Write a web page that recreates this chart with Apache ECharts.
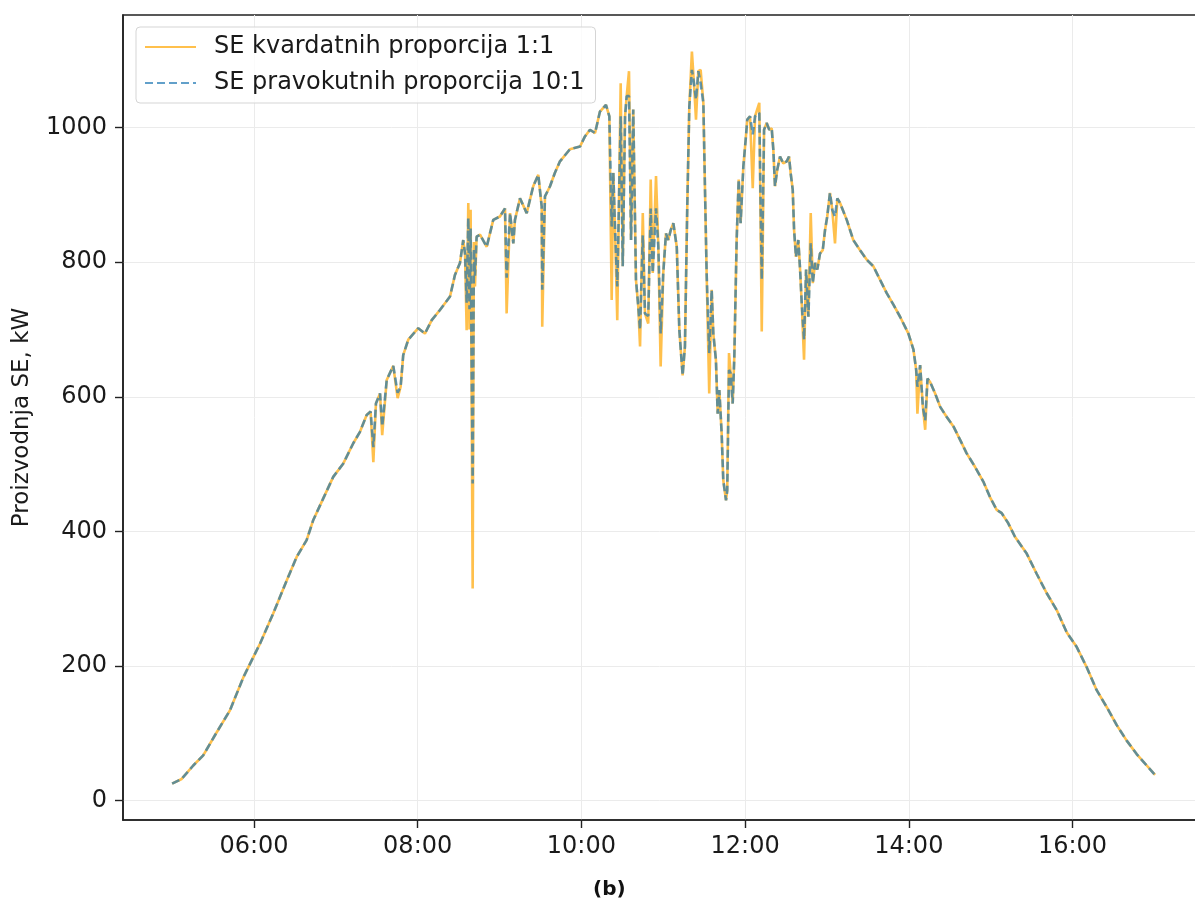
<!DOCTYPE html>
<html><head><meta charset="utf-8">
<script src="https://cdn.jsdelivr.net/npm/echarts@6/dist/echarts.min.js"></script>
<style>html,body{margin:0;padding:0;background:#fff}#c{width:1195px;height:904px}</style>
</head><body><div id="c"></div>
<script>
// time in minutes since midnight
const times = [
300,307,315.5,322.8,331.4,342.4,352.2,360.7,364.4,374.1,384,391.3,398.6,403.5,410.8,418.1,425.5,432.8,437.7,442.6,
445.5,447.5,449.4,452.4,454,457.3,462.1,465.3,467.5,469.4,473.1,480.4,485.3,490.3,496.3,503.7,507.3,511,513.4,514.7,
515.9,517.1,518,518.8,519.6,520.3,521.2,522,523.2,525.7,530.6,535.4,540.3,544,545.2,547.7,550.1,551.3,555,559.9,
564.7,568.4,570.9,571.3,573.3,577,580.6,584.3,591.6,599,602.6,606.3,610,613.6,618,620.5,622.2,623.4,624.6,626.3,
628.8,630.3,632,633.2,634.9,636.4,638,640,641.7,643,645,646.6,649,650.8,652.3,654.7,656.4,658.1,660,662,
663.7,665.5,667.4,669.9,671.8,674.2,675.9,677.6,679.1,681,682.5,684,685.7,687.4,689.4,690.6,691.8,693.7,695.5,696.7,
698.6,699.9,701.1,702.8,704,706,706.9,708.2,709.4,710.9,712.1,713.8,715.3,716.7,718.7,720.4,721.6,723.6,725.6,727.3,
730.4,732.2,733.9,735.8,737.7,739.5,740.7,741.9,743.6,745.6,748,750.5,752.2,753.4,754.9,755.9,757.3,759,760.3,761.5,
763.2,764.7,766.4,768.1,769.6,771.3,772.9,774.9,776.9,778.6,780.2,782.2,783.9,785.9,787.6,789.6,794.5,799.3,804.2,809.1,
814,818.9,823.8,828.7,833.6,839.7,843.4,845.4,846.3,848.3,850.3,852,853.7,855.6,859.3,863,867.8,872.7,877.6,882.4,
888.5,894.6,899.5,904.4,908.1,912.9,917.8,926.4,933.7,941.1,948.4,955.7,963.1,970.4,977.7,985,992.4,999.7,1007,1014.4,
1020.5
];
// SE kvardatnih proporcija 1:1 (kW)
const seriesSquare = [
25,32,52,67,97,134,183,218,233,278,327,362,387,417,449,481,501,531,548,573,
578,503,590,605,543,625,646,598,615,662,685,702,694,714,729,749,781,799,833,813,
699,888,700,878,585,315,830,764,838,841,823,863,868,880,724,873,828,863,895,873,
913,930,883,704,898,913,933,950,968,972,987,997,992,1024,1034,1017,744,933,853,714,
1066,794,1017,1047,1084,833,1027,774,734,675,873,724,709,923,784,928,823,645,784,843,
833,848,858,823,699,632,675,883,1031,1113,1066,1012,1084,1086,1037,908,784,605,759,694,
655,575,610,546,476,446,461,665,635,590,660,833,923,858,942,982,1012,1017,910,1017,
1037,697,997,1007,997,999,967,913,938,957,947,950,957,932,908,848,808,833,789,739,
655,789,719,873,769,799,789,813,818,848,868,903,878,828,895,888,863,833,818,804,
794,774,754,737,719,694,670,640,575,647,585,551,627,622,605,585,570,556,536,516,
496,474,451,432,427,412,392,367,337,308,283,250,228,198,164,139,112,89,69,52,
38
];
// SE pravokutnih proporcija 10:1 (kW)
const seriesRect = [
25,32,52,67,97,134,183,218,233,278,327,362,387,417,449,481,501,531,548,573,
578,525,590,605,556,625,646,606,615,662,685,702,694,714,729,749,781,799,833,813,
740,866,730,850,640,471,820,780,838,841,823,863,868,880,777,873,828,863,895,873,
913,930,883,759,898,913,933,950,968,972,987,997,992,1024,1034,1017,853,933,853,764,
1017,794,1017,1047,1047,833,1027,774,734,700,840,724,720,880,784,880,823,694,784,843,
833,848,858,823,699,632,675,883,1031,1086,1066,1042,1084,1066,1037,908,784,665,759,694,
655,575,610,546,476,446,461,640,635,590,660,833,923,858,942,982,1012,1017,990,1017,
1022,774,997,1007,997,999,967,913,938,957,947,950,957,932,908,848,808,833,789,739,
685,789,719,828,769,799,789,813,818,848,868,903,878,868,895,888,863,833,818,804,
794,774,754,737,719,694,670,640,615,647,585,565,627,622,605,585,570,556,536,516,
496,474,451,432,427,412,392,367,337,308,283,250,228,198,164,139,112,89,69,52,
38
];
const seriesNames = ['SE kvardatnih proporcija 1:1', 'SE pravokutnih proporcija 10:1'];
const xTicks = [360, 480, 600, 720, 840, 960];
const yTicks = [0, 200, 400, 600, 800, 1000];
const yAxisTitle = 'Proizvodnja SE, kW';
const panelLabel = '(b)';

const fmt = function (m) {
  const h = Math.floor(m / 60), mm = Math.round(m % 60);
  return String(h).padStart(2, '0') + ':' + String(mm).padStart(2, '0');
};
const axisColor = '#222';
const font = 'DejaVu Sans';
const chart = echarts.init(document.getElementById('c'), null, {renderer: 'canvas'});
chart.setOption({
  animation: false,
  backgroundColor: '#fff',
  grid: {left: 123, right: -8.5, top: 15, bottom: 84, show: true, borderColor: axisColor, borderWidth: 1.6,
    backgroundColor: 'transparent', containLabel: false, outerBoundsMode: 'none'},
  legend: {
    orient: 'vertical', left: 136, top: 27,
    itemWidth: 51, itemHeight: 14, itemGap: 12,
    padding: [8, 11, 8, 8],
    backgroundColor: 'rgba(255,255,255,0.8)', borderColor: '#d5d5d5', borderWidth: 1, borderRadius: 4,
    itemStyle: {opacity: 0},
    textStyle: {fontSize: 24, color: '#1a1a1a', fontFamily: font, padding: [0, 0, 0, 13]},
    data: seriesNames
  },
  xAxis: {
    type: 'value', min: 264, max: 1056,
    axisLine: {show: true, onZero: false, lineStyle: {color: axisColor, width: 1.6}},
    axisTick: {show: true, customValues: xTicks, length: 8, lineStyle: {color: axisColor, width: 1.4}},
    axisLabel: {customValues: xTicks, formatter: fmt, fontSize: 24, color: '#1a1a1a', margin: 15, fontFamily: font},
    splitLine: {show: true, lineStyle: {color: '#ebebeb', width: 1}}
  },
  yAxis: {
    type: 'value', min: -29, max: 1167.5,
    name: yAxisTitle, nameLocation: 'middle', nameGap: 89, nameRotate: 90,
    nameTextStyle: {fontSize: 23, color: '#1a1a1a', fontFamily: font},
    axisLine: {show: true, onZero: false, lineStyle: {color: axisColor, width: 1.6}},
    axisTick: {show: true, customValues: yTicks, length: 8, lineStyle: {color: axisColor, width: 1.4}},
    axisLabel: {customValues: yTicks, formatter: function (v) { return String(v); }, fontSize: 24, color: '#1a1a1a', margin: 16, fontFamily: font},
    splitLine: {show: true, lineStyle: {color: '#ebebeb', width: 1}}
  },
  graphic: [{
    type: 'text', left: 593, top: 880,
    style: {text: panelLabel, font: 'bold 20px "DejaVu Sans"', fill: '#111'}
  }],
  series: [
    {
      name: seriesNames[0], type: 'line', symbol: 'none', showSymbol: false, silent: true,
      data: times.map(function (t, i) { return [t, seriesSquare[i]]; }),
      lineStyle: {color: 'rgba(255,165,0,0.7)', width: 2.6},
      itemStyle: {color: 'rgba(255,165,0,0.7)'}, z: 2
    },
    {
      name: seriesNames[1], type: 'line', symbol: 'none', showSymbol: false, silent: true,
      data: times.map(function (t, i) { return [t, seriesRect[i]]; }),
      lineStyle: {color: 'rgba(31,119,180,0.7)', width: 2.6, type: [8, 4]},
      itemStyle: {color: 'rgba(31,119,180,0.7)'}, z: 3
    }
  ]
});
</script></body></html>
